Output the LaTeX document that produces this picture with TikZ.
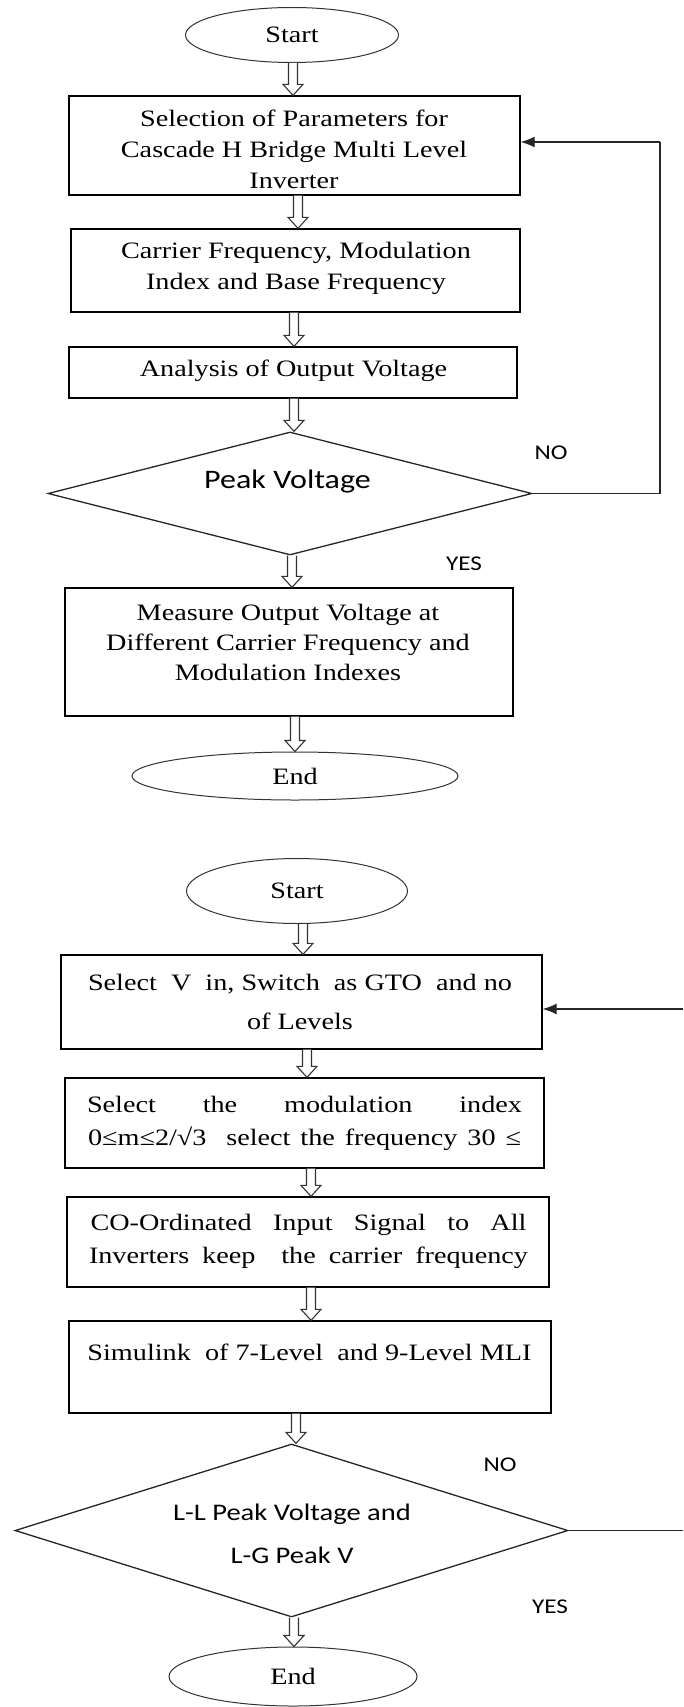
\documentclass[tikz,border=0pt]{standalone}
\usepackage{fontspec}
\setmainfont{Liberation Serif}[FakeStretch=1.2]
\newfontfamily\sansf{Carlito}[FakeStretch=1.2]
\usetikzlibrary{shapes.geometric,arrows.meta,calc}
\newcommand\serf[1]{\fontsize{23.5}{#1}\selectfont}
\tikzset{
  boxnode/.style={draw=black,line width=1.3pt,rectangle,inner sep=0pt},
  ovalnode/.style={draw=black!80,line width=1pt,ellipse,inner sep=0pt,font=\serf{31}},
  decnode/.style={draw=black!85,line width=1.3pt,diamond,inner sep=0pt},
  txtnode/.style={inner sep=0pt,align=center},
  lblnode/.style={inner sep=0pt,font=\sansf\fontsize{21}{25}\selectfont},
  fb/.style={draw=black!85,line width=1.3pt},
  fbarrow/.style={fb,-{Latex[length=14pt,width=11pt]}},
  harrow/.style={draw=black!80,line width=1.1pt,fill=white,to path={
    let \p1=(\tikztostart), \p2=(\tikztotarget) in
    (\x1-4.5pt,\y1) -- (\x1-4.5pt,\y2+11pt) -- (\x1-10pt,\y2+11pt) -- (\x1,\y2)
    -- (\x1+10pt,\y2+11pt) -- (\x1+4.5pt,\y2+11pt) -- (\x1+4.5pt,\y1)}}
}
\begin{document}
\begin{tikzpicture}[x=1pt,y=-1pt]
\useasboundingbox[fill=white] (0,0) rectangle (683,1707);

% ---------- first chart ----------
\node[ovalnode,minimum width=213pt,minimum height=55pt] (e1) at (292,35) {Start};
\node[boxnode,minimum width=451pt,minimum height=99pt] (b1) at (294.5,145.5) {};
\node[txtnode,font=\serf{31}] (t1) at (294,149.5) {Selection of Parameters for\\Cascade H Bridge Multi Level\\Inverter};
\node[boxnode,minimum width=449pt,minimum height=83pt] (b2) at (295.5,270.5) {};
\node[txtnode,font=\serf{31}] (t2) at (296,268) {Carrier Frequency, Modulation\\Index and Base Frequency};
\node[boxnode,minimum width=448pt,minimum height=51pt] (b3) at (293,372.5) {};
\node[txtnode,font=\serf{31}] (t3) at (293.5,371) {Analysis of Output Voltage};
\node[decnode,minimum width=484pt,minimum height=123pt] (d1) at (290,493.5) {};
\node[txtnode,font=\sansf\fontsize{26.7}{32}\selectfont] (dt1) at (287.5,482) {Peak Voltage};
\node[boxnode,minimum width=448pt,minimum height=128pt] (b4) at (289,652) {};
\node[txtnode,font=\serf{30}] (t4) at (288,642) {Measure Output Voltage at\\Different Carrier Frequency and\\Modulation Indexes};
\node[ovalnode,minimum width=326pt,minimum height=48pt] (e2) at (295,776) {End};
\node[lblnode] (no1) at (551,453) {NO};
\node[lblnode] (yes1) at (464,564) {YES};
\coordinate (fb1) at (660,142);

\draw[harrow] ([xshift=1pt]e1.south) to (b1.north);
\draw[harrow] ([xshift=3.5pt]b1.south) to (b2.north);
\draw[harrow] ([xshift=-1.5pt]b2.south) to (b3.north);
\draw[harrow] ([xshift=1pt]b3.south) to (d1.north);
\draw[harrow] ([xshift=2pt]d1.south) to (b4.north);
\draw[harrow] ([xshift=6pt]b4.south) to (e2.north);
\draw[fb] (d1.east) -| (fb1);
\draw[fbarrow] (fb1) -- (fb1 -| b1.east);

% ---------- second chart ----------
\node[ovalnode,minimum width=221pt,minimum height=65pt] (e3) at (297,891) {Start};
\node[boxnode,minimum width=481pt,minimum height=94pt] (b5) at (301.5,1002) {};
\node[txtnode,font=\serf{39}] (t5) at (300,1001.5) {Select \ V \ in, Switch \ as GTO \ and no\\of Levels};
\node[boxnode,minimum width=479pt,minimum height=90pt] (b6) at (304.5,1123) {};
\node[txtnode,font=\serf{33}] (t6) at (304.5,1123.5) {\makebox[435pt][s]{Select the modulation index}\\\makebox[433pt][s]{0≤m≤2/√3 \ select the frequency 30 ≤}};
\node[boxnode,minimum width=482pt,minimum height=90pt] (b7) at (308,1242) {};
\node[txtnode,font=\serf{33}] (t7) at (308.5,1241.5) {\makebox[436pt][s]{CO-Ordinated Input Signal to All}\\\makebox[439pt][s]{Inverters keep \ the carrier frequency}};
\node[boxnode,minimum width=482pt,minimum height=92pt] (b8) at (310,1367) {};
\node[txtnode,font=\serf{31}] (t8) at (309.5,1352) {Simulink \ of 7-Level \ and 9-Level MLI};
\node[decnode,minimum width=553pt,minimum height=173pt] (d2) at (291.5,1530.5) {};
\node[txtnode,font=\sansf\fontsize{23.8}{43}\selectfont] (dt2) at (292,1533.5) {L-L Peak Voltage and\\L-G Peak V};
\node[ovalnode,minimum width=248pt,minimum height=59pt] (e4) at (293,1676.5) {End};
\node[lblnode] (no2) at (500,1465) {NO};
\node[lblnode] (yes2) at (550,1607) {YES};
\coordinate (r1) at (683,1530.5);
\coordinate (r2) at (683,1009);

\draw[harrow] ([xshift=6pt]e3.south) to (b5.north);
\draw[harrow] ([xshift=5.5pt]b5.south) to (b6.north);
\draw[harrow] ([xshift=6.5pt]b6.south) to (b7.north);
\draw[harrow] ([xshift=3pt]b7.south) to (b8.north);
\draw[harrow] ([xshift=-14pt]b8.south) to (d2.north);
\draw[harrow] ([xshift=2.5pt]d2.south) to (e4.north);
\draw[fb] (d2.east) -- (r1);
\draw[fbarrow] (r2) -- (r2 -| b5.east);
\end{tikzpicture}
\end{document}
